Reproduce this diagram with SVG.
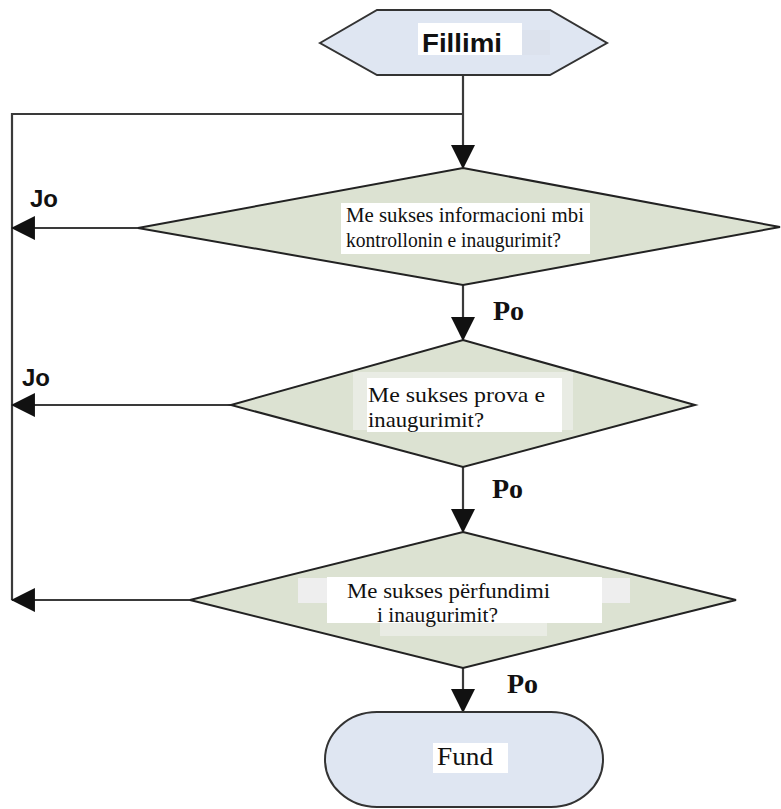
<svg xmlns="http://www.w3.org/2000/svg" width="781" height="809" viewBox="0 0 781 809">
<style>
.conn{stroke:#3a3a3a;stroke-width:2.2;fill:none}
.dia{fill:#dce2d2;stroke:#222;stroke-width:2}
.term{fill:#dfe6f2;stroke:#333;stroke-width:2}
.tbox{fill:#ffffff}
.q{font-family:"Liberation Serif","Times New Roman",serif;font-size:22px;fill:#111}
.jo{font-family:"Liberation Sans",Arial,sans-serif;font-size:24px;font-weight:bold;fill:#111}
.po{font-family:"Liberation Serif","Times New Roman",serif;font-size:28px;font-weight:bold;fill:#111}
</style>
<defs>
<marker id="ah" markerUnits="userSpaceOnUse" markerWidth="24" markerHeight="24" viewBox="0 0 22 22" refX="21" refY="11" orient="auto">
<path d="M0,0 L22,11 L0,22 Z" fill="#111"/>
</marker>
</defs>
<rect width="781" height="809" fill="#ffffff"/>

<g id="connectors">
<line class="conn" x1="463" y1="75" x2="463" y2="168" marker-end="url(#ah)"/>
<polyline class="conn" points="463,114 12,114 12,600"/>
<line class="conn" x1="138" y1="228" x2="12" y2="228" marker-end="url(#ah)"/>
<line class="conn" x1="463" y1="285" x2="463" y2="340" marker-end="url(#ah)"/>
<line class="conn" x1="231" y1="405" x2="12" y2="405" marker-end="url(#ah)"/>
<line class="conn" x1="463" y1="467" x2="463" y2="532" marker-end="url(#ah)"/>
<line class="conn" x1="190" y1="600" x2="12" y2="600" marker-end="url(#ah)"/>
<line class="conn" x1="463" y1="668" x2="463" y2="712" marker-end="url(#ah)"/>
<text class="jo" x="30" y="207">Jo</text>
<text class="jo" x="22" y="386">Jo</text>
<text class="po" x="493" y="320">Po</text>
<text class="po" x="492" y="498">Po</text>
<text class="po" x="507" y="693">Po</text>
</g>

<g id="start">
<polygon class="term" points="320,43 377,10 550,10 607,43 550,75 377,75"/>
<rect x="522" y="30" width="28" height="25" fill="#d9dee8" opacity="0.5"/>
<rect class="tbox" x="418" y="23" width="104" height="32"/>
<text x="422" y="52" font-family="'Liberation Sans',Arial,sans-serif" font-size="26" font-weight="bold" fill="#111" textLength="80" lengthAdjust="spacingAndGlyphs">Fillimi</text>
</g>

<g id="decision1">
<polygon class="dia" points="463,168 780,227 463,285 138,228"/>
<rect class="tbox" x="341" y="203" width="249" height="51"/>
<text class="q" x="346" y="222" textLength="238" lengthAdjust="spacingAndGlyphs">Me sukses informacioni mbi</text>
<text class="q" x="346" y="247" textLength="215" lengthAdjust="spacingAndGlyphs">kontrollonin e inaugurimit?</text>
</g>

<g id="decision2">
<polygon class="dia" points="463,340 695,405 463,467 231,405"/>
<rect x="353" y="372" width="220" height="58" fill="#e9ece4"/>
<rect class="tbox" x="367" y="378" width="195" height="54"/>
<text class="q" x="368" y="402" textLength="177" lengthAdjust="spacingAndGlyphs">Me sukses prova e</text>
<text class="q" x="368" y="427" textLength="116" lengthAdjust="spacingAndGlyphs">inaugurimit?</text>
</g>

<g id="decision3">
<polygon class="dia" points="463,532 736,600 463,668 190,600"/>
<rect x="298" y="578" width="332" height="25" fill="#eeeeee"/>
<rect x="380" y="622" width="167" height="14" fill="#e9ece4"/>
<rect class="tbox" x="327" y="577" width="275" height="46"/>
<text class="q" x="347" y="598" textLength="203" lengthAdjust="spacingAndGlyphs">Me sukses përfundimi</text>
<text class="q" x="377" y="622" textLength="121" lengthAdjust="spacingAndGlyphs">i inaugurimit?</text>
</g>

<g id="end">
<rect class="term" x="325" y="712" width="278" height="95" rx="52" ry="47.5"/>
<rect class="tbox" x="433" y="743" width="75" height="30"/>
<text x="437" y="765" font-family="'Liberation Serif','Times New Roman',serif" font-size="25" fill="#111" textLength="56" lengthAdjust="spacingAndGlyphs">Fund</text>
</g>
</svg>
